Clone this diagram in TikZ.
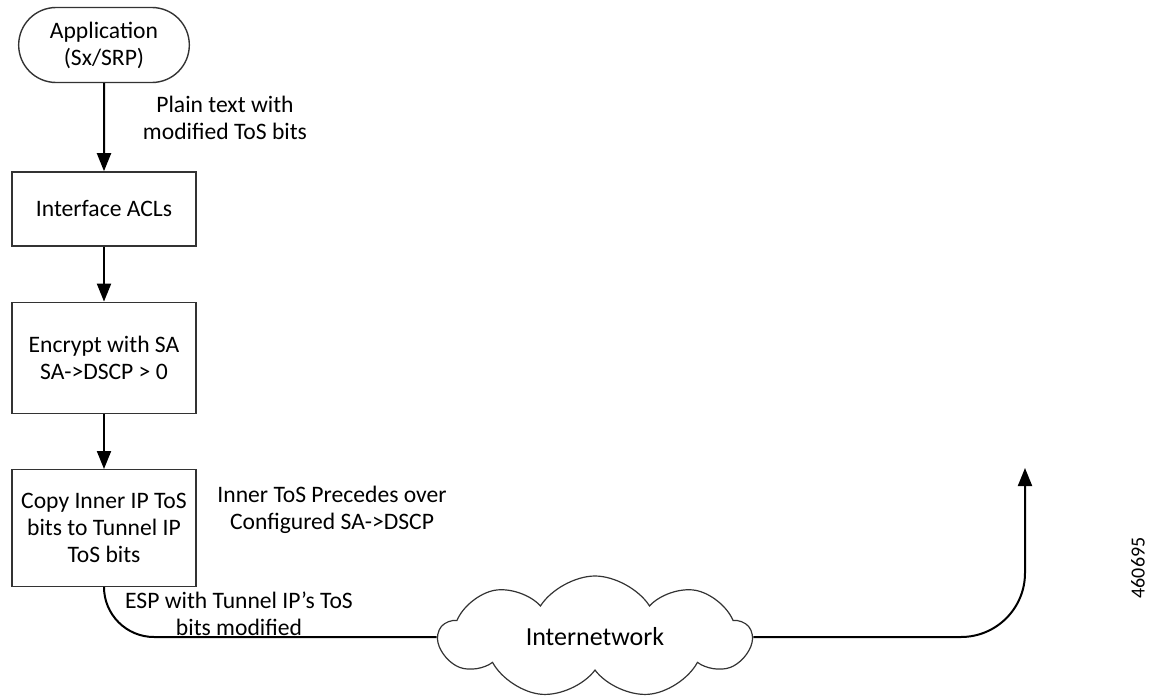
\documentclass[tikz,border=0pt]{standalone}
\usepackage{fontspec}
\setmainfont{Carlito}
\usepackage{tikz}
\usetikzlibrary{positioning, shapes.misc, shapes.symbols, arrows.meta}

\begin{document}
\begin{tikzpicture}[x=0.5pt, y=-0.5pt,
    stage/.style={rectangle, draw=black!80, line width=0.7pt,
      minimum width=92pt, align=center, font=\fontsize{11.8}{13.5}\selectfont},
    term/.style={rounded rectangle, draw=black!80, line width=0.7pt,
      minimum width=92pt, minimum height=37.5pt, align=center, font=\fontsize{11.8}{13.5}\selectfont},
    flow/.style={-{Triangle[width=7pt, length=9pt]}, line width=1pt, black},
    link/.style={line width=1pt, black, rounded corners=25pt},
    note/.style={align=center, font=\fontsize{11.8}{13.5}\selectfont}
  ]
    \useasboundingbox (0,0) rectangle (1152,696);
    \node[term] (app) at (104,45) {Application \\ (Sx/SRP)};
    \node[stage, minimum height=37pt, below=44pt of app] (acl) {Interface ACLs};
    \node[stage, minimum height=55.5pt, below=27.5pt of acl] (enc)
      {Encrypt with SA \\ SA->DSCP > 0};
    \node[stage, minimum height=58.5pt, below=27.5pt of enc] (copy)
      {Copy Inner IP ToS \\ bits to Tunnel IP \\ ToS bits};
    \node[cloud, draw=black!80, line width=0.6pt, cloud puffs=9, cloud puff arc=115,
      cloud ignores aspect, minimum width=156pt, minimum height=61pt,
      font=\fontsize{13}{15}\selectfont] (net) at (595,637) {Internetwork};
    \coordinate (out) at (1025,468);
    \draw[flow] (app) -- (acl);
    \draw[flow] (acl) -- (enc);
    \draw[flow] (enc) -- (copy);
    \draw[link] (copy.south) |- (net.west);
    \draw[link, rounded corners=32pt, -{Triangle[width=7pt, length=9pt]}] (net.east) -| (out);
    \node[note] (plain) at (225,118) {Plain text with \\ modified ToS bits};
    \node[note] (inner) at (332,510) {Inner ToS Precedes over \\ Configured SA->DSCP};
    \node[note] (esp) at (239,614) {ESP with Tunnel IP’s ToS \\ bits modified};
    \node[rotate=90, font=\fontsize{10}{12}\selectfont] (fig) at (1138,568) {460695};
  \end{tikzpicture}
\end{document}
